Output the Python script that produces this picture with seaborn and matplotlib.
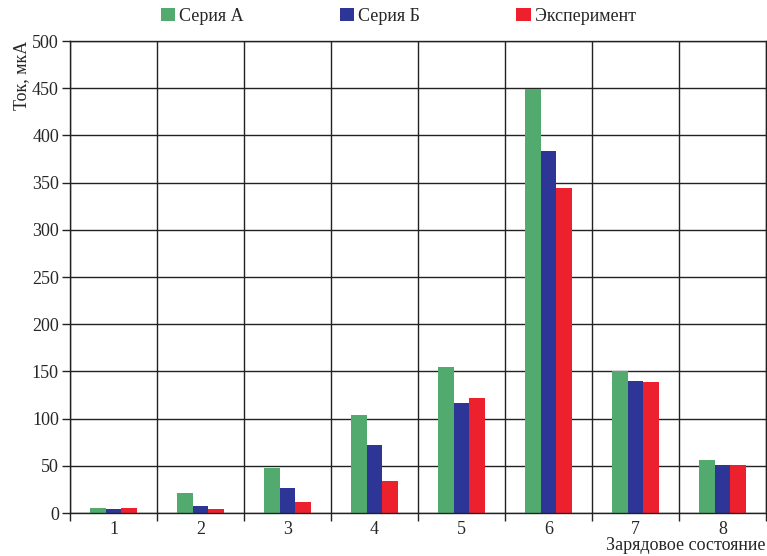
import matplotlib
matplotlib.use("Agg")
import matplotlib.pyplot as plt
import seaborn as sns
import pandas as pd
import numpy as np

states = ["1", "2", "3", "4", "5", "6", "7", "8"]
series_a = [5, 21, 48, 104, 155, 449, 150, 56]
series_b = [4, 7, 26, 72, 117, 383, 140, 51]
experiment = [5, 4, 12, 34, 122, 344, 139, 51]
series_names = ["Серия А", "Серия Б", "Эксперимент"]
colors = ["#52AA6E", "#2D3596", "#ED202E"]
y_ticks = [0, 50, 100, 150, 200, 250, 300, 350, 400, 450, 500]

df = pd.DataFrame({
    "state": states,
    series_names[0]: series_a,
    series_names[1]: series_b,
    series_names[2]: experiment,
}).melt(id_vars="state", var_name="series", value_name="value")

sns.set_style("ticks")
plt.rcParams["font.family"] = ["Liberation Serif", "DejaVu Serif"]
plt.rcParams["font.size"] = 13

line_col = "#222222"

fig = plt.figure(figsize=(7.67, 5.56), dpi=100)
ax = fig.add_axes([70 / 767, 43 / 556, 696 / 767, 472 / 556])

sns.barplot(data=df, x="state", y="value", hue="series", palette=colors,
            width=0.53, gap=0, saturation=1, linewidth=0, ax=ax)

ax.set_xlim(-0.5, 7.5)
ax.set_ylim(0, 500)
ax.set_yticks(y_ticks)
ax.set_axisbelow(True)

# vertical lines sit between the groups
ax.set_xticks(np.arange(-0.5, 8, 1), minor=True)
ax.tick_params(axis="x", which="major", length=0, pad=6, labelsize=13)
ax.tick_params(axis="x", which="minor", length=6, width=1, color=line_col, direction="out")
ax.tick_params(axis="y", length=6, width=1, color=line_col, pad=2, labelsize=13)
ax.yaxis.grid(True, color=line_col, linewidth=1)
ax.xaxis.grid(True, which="minor", color=line_col, linewidth=1)

for s in ax.spines.values():
    s.set_color(line_col)
    s.set_linewidth(1)

ax.set_ylabel("Ток, мкА", loc="top", labelpad=1, fontsize=13)
ax.set_xlabel("Зарядовое состояние", loc="right", labelpad=-1, fontsize=13)

handles, labels = ax.get_legend_handles_labels()
ax.get_legend().remove()
fig.legend(handles, labels, loc="center", bbox_to_anchor=(0.519, 0.971), ncol=3,
           frameon=False, fontsize=13, columnspacing=5.35, handlelength=0.78,
           handleheight=0.78, handletextpad=0.22)

fig.savefig("out.png", dpi=100)
